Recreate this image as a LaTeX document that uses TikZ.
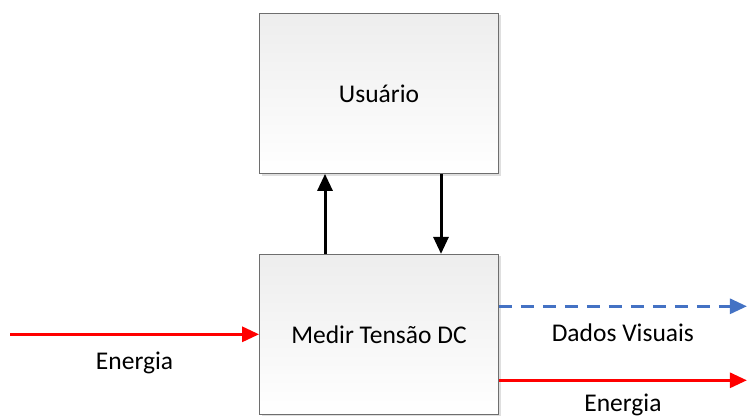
\documentclass[tikz,border=0pt]{standalone}
\usepackage{fontspec}
\setmainfont{Carlito}
\usepackage{tikz}
\usetikzlibrary{arrows.meta,positioning,calc,shadows}

\definecolor{boxline}{HTML}{6E6E6E}
\definecolor{datablue}{HTML}{4472C4}

\begin{document}
\begin{tikzpicture}[x=1pt,y=1pt,
  tip/.style={-{Triangle[length=17pt,width=15pt]}},
  blk/.style={rectangle,draw=boxline,thick,top color=gray!14,bottom color=white,
    minimum width=239pt,minimum height=160pt,inner sep=0pt,
    drop shadow={shadow xshift=2pt,shadow yshift=-2pt,opacity=.25},
    font=\fontsize{25.5}{30}\selectfont},
  lbl/.style={midway,anchor=base,yshift=-35pt,font=\fontsize{25.5}{30}\selectfont}]
    \useasboundingbox[fill=white] (0,0) rectangle (747,416);
    \node[blk](user) at (379,322.5){Usuário};
    \node[blk,below=80pt of user](medir){Medir Tensão DC};
    \coordinate (src) at (10,0 |- medir.west);
    \coordinate (dados) at ($(medir.east)+(248,28)$);
    \coordinate (saida) at ($(medir.east)+(248,-46)$);
    % setas entre os blocos
    \draw[tip,line width=3pt] ([xshift=-54pt]medir.north) -- ([xshift=-54pt]user.south);
    \draw[tip,line width=3pt] ([xshift=62pt]user.south) -- ([xshift=62pt]medir.north);
    % entrada e saidas
    \draw[tip,red,line width=3pt] (src) -- (medir.west) node[lbl,text=black] {Energia};
    \draw[tip,datablue,line width=3pt,dash pattern=on 13pt off 9pt]
      (medir.east |- dados) -- (dados) node[lbl,text=black] {Dados Visuais};
    \draw[tip,red,line width=3pt]
      (medir.east |- saida) -- (saida) node[lbl,yshift=4pt,text=black] {Energia};
\end{tikzpicture}
\end{document}
